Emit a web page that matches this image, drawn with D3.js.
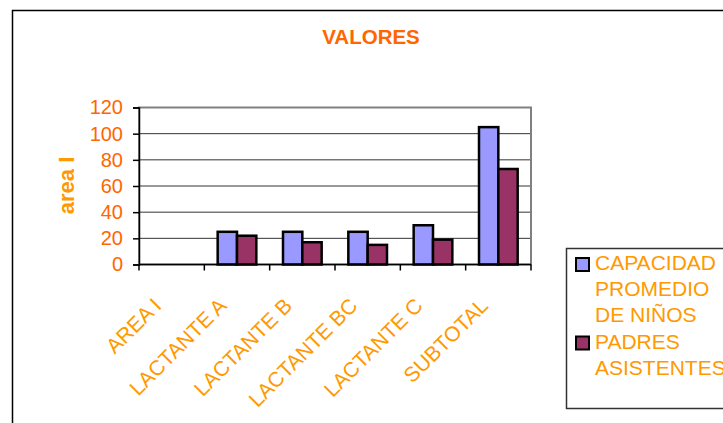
<!DOCTYPE html>
<html>
<head>
  <meta charset="utf-8" />
  <title>VALORES</title>
  <script src="https://d3js.org/d3.v7.min.js"></script>
  <style>
    body { margin: 0; background: #fff; }
    text { font-family: Arial, "Liberation Sans", sans-serif; }
  </style>
</head>
<body>
  <svg id="chart" width="723" height="423"></svg>
  <script>
    // data
    var categories = ["AREA I", "LACTANTE A", "LACTANTE B", "LACTANTE BC", "LACTANTE C", "SUBTOTAL"];
    var seriesNames = ["CAPACIDAD PROMEDIO DE NIÑOS", "PADRES ASISTENTES"];
    var capacidad = [0, 25, 25, 25, 30, 105];
    var padres = [0, 22, 17, 15, 19, 73];
    var yTicks = [0, 20, 40, 60, 80, 100, 120];
    var legendLines = [["CAPACIDAD", "PROMEDIO", "DE NIÑOS"], ["PADRES", "ASISTENTES"]];
    var colors = ["#9999FF", "#993366"];

    var svg = d3.select("#chart");

    // outer frame
    svg.append("rect")
      .attr("x", 12.5).attr("y", 10.5)
      .attr("width", 800).attr("height", 500)
      .attr("fill", "none").attr("stroke", "#000").attr("stroke-width", 1.5);

    // title
    svg.append("text")
      .attr("x", 371).attr("y", 43.5)
      .attr("text-anchor", "middle")
      .attr("font-size", "20.5px").attr("font-weight", "bold")
      .attr("fill", "#FF6600")
      .text("VALORES");

    var x = d3.scaleBand().domain(categories).range([139, 531]);
    var x1 = d3.scaleBand().domain([0, 1]).range([0, x.bandwidth()]).paddingOuter(0.69);
    var y = d3.scaleLinear().domain([0, 120]).range([264.5, 107.5]);

    // gridlines
    svg.append("g").selectAll("line")
      .data(yTicks.filter(function(t) { return t > 0 && t < 120; }))
      .enter().append("line")
      .attr("x1", 139).attr("x2", 531)
      .attr("y1", function(d) { return y(d); })
      .attr("y2", function(d) { return y(d); })
      .attr("stroke", "#333").attr("stroke-width", 1);

    // plot border (gray)
    svg.append("rect")
      .attr("x", 139).attr("y", y(120))
      .attr("width", 392).attr("height", y(0) - y(120))
      .attr("fill", "none").attr("stroke", "#808080").attr("stroke-width", 2);

    // bars
    var rows = categories.map(function(c, i) { return { cat: c, vals: [capacidad[i], padres[i]] }; });
    var groups = svg.append("g").selectAll("g")
      .data(rows).enter().append("g")
      .attr("transform", function(d) { return "translate(" + x(d.cat) + ",0)"; });
    groups.selectAll("rect")
      .data(function(d) { return d.vals.map(function(v, j) { return { v: v, j: j }; }); })
      .enter().append("rect")
      .filter(function(d) { return d.v > 0; })
      .attr("x", function(d) { return x1(d.j); })
      .attr("y", function(d) { return y(d.v); })
      .attr("width", x1.bandwidth())
      .attr("height", function(d) { return y(0) - y(d.v); })
      .attr("fill", function(d) { return colors[d.j]; })
      .attr("stroke", "#000").attr("stroke-width", 2.5);

    // y axis
    var yAxis = svg.append("g")
      .attr("transform", "translate(139,0)")
      .call(d3.axisLeft(y).tickValues(yTicks).tickSize(6).tickPadding(10));
    yAxis.select(".domain").attr("stroke", "#000").attr("stroke-width", 1.5);
    yAxis.selectAll(".tick line").attr("stroke", "#000").attr("stroke-width", 1.5);
    yAxis.selectAll(".tick text")
      .attr("fill", "#FF6600").attr("font-size", "20px")
      .attr("font-family", "Arial, 'Liberation Sans', sans-serif");

    // x axis
    var xAxis = svg.append("g").attr("transform", "translate(0," + y(0) + ")");
    xAxis.append("line")
      .attr("x1", 139).attr("x2", 531)
      .attr("stroke", "#000").attr("stroke-width", 1.5);
    var bounds = categories.map(function(c) { return x(c); }).concat([x.range()[1]]);
    xAxis.selectAll(".xt").data(bounds).enter().append("line")
      .attr("class", "xt")
      .attr("x1", function(d) { return d; }).attr("x2", function(d) { return d; })
      .attr("y1", 0).attr("y2", 6)
      .attr("stroke", "#000").attr("stroke-width", 1.5);
    svg.append("g").selectAll("text")
      .data(categories).enter().append("text")
      .attr("transform", function(d) {
        return "translate(" + (x(d) + x.bandwidth() / 2 - 9) + ",307) rotate(-45)";
      })
      .attr("text-anchor", "end")
      .attr("font-size", "21px")
      .attr("fill", "#FF9900")
      .text(function(d) { return d; });

    // y label
    svg.append("text")
      .attr("transform", "translate(74,185.5) rotate(-90)")
      .attr("text-anchor", "middle")
      .attr("font-size", "22px").attr("font-weight", "bold")
      .attr("fill", "#FF9900")
      .text("area I");

    // legend
    var legend = svg.append("g");
    legend.append("rect")
      .attr("x", 566.5).attr("y", 248.5)
      .attr("width", 300).attr("height", 160)
      .attr("fill", "#fff").attr("stroke", "#333").attr("stroke-width", 1.5);
    var markerY = [258, 336.5];
    var baseY = [269.5, 349];
    seriesNames.forEach(function(name, i) {
      legend.append("rect")
        .attr("x", 576).attr("y", markerY[i])
        .attr("width", 13).attr("height", 13)
        .attr("fill", colors[i]).attr("stroke", "#000").attr("stroke-width", 2);
      legend.append("text")
        .attr("x", 595).attr("y", baseY[i])
        .attr("font-size", "21px").attr("fill", "#FF9900")
        .selectAll("tspan").data(legendLines[i]).enter().append("tspan")
        .attr("x", 595)
        .attr("dy", function(d, k) { return k === 0 ? 0 : 26; })
        .text(function(d) { return d; });
    });
  </script>
</body>
</html>
